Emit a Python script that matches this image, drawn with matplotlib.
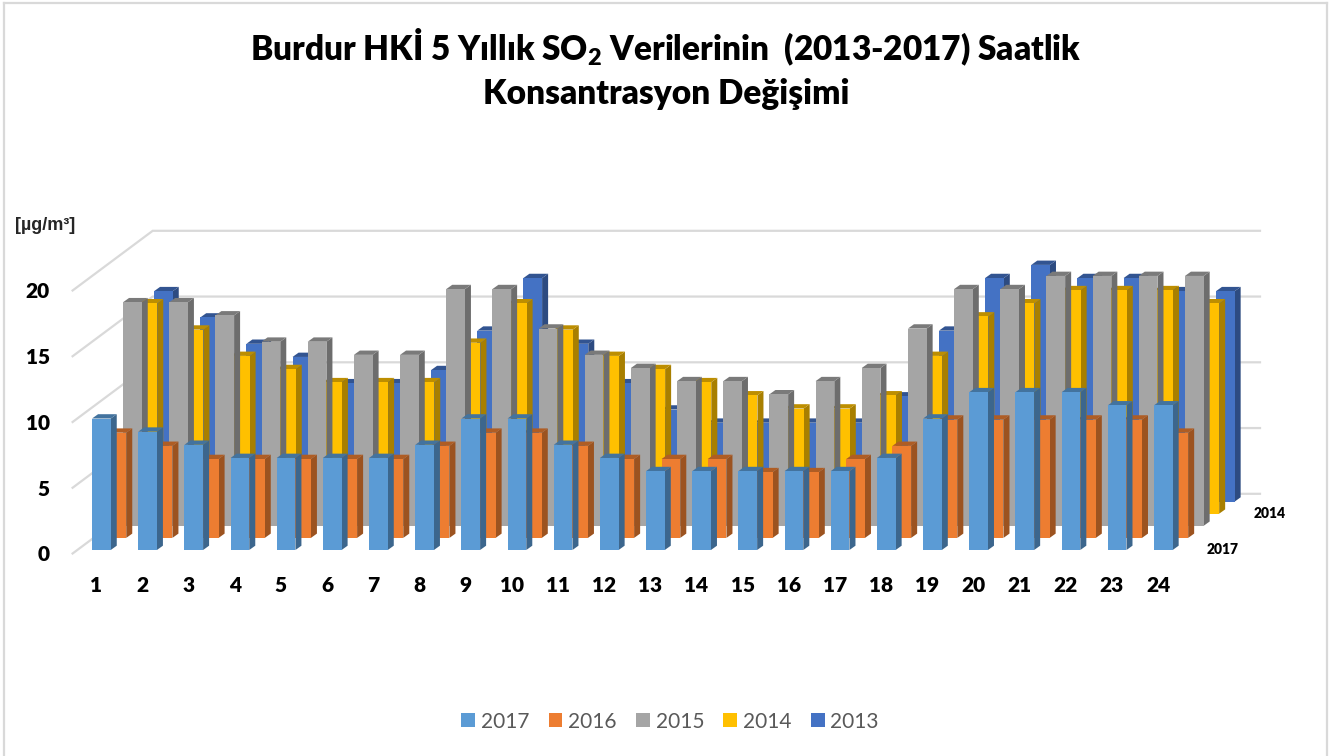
"""Burdur SO2 hourly concentration chart, fake 3D bars in plain 2D axes."""

import matplotlib

matplotlib.use("Agg")
import matplotlib.pyplot as plt  # noqa: E402
from matplotlib.colors import to_rgb  # noqa: E402
from matplotlib.lines import Line2D  # noqa: E402
from matplotlib.patches import Patch  # noqa: E402

hours = list(range(1, 25))
y_ticks = [0, 5, 10, 15, 20]

so2_2017 = [10, 9, 8, 7, 7, 7, 7, 8, 10, 10, 8, 7, 6, 6, 6, 6, 6, 7, 10, 12, 12, 12, 11, 11]
so2_2016 = [8, 7, 6, 6, 6, 6, 6, 7, 8, 8, 7, 6, 6, 6, 5, 5, 6, 7, 9, 9, 9, 9, 9, 8]
so2_2015 = [17, 17, 16, 14, 14, 13, 13, 18, 18, 15, 13, 12, 11, 11, 10, 11, 12, 15, 18, 18, 19, 19, 19, 19]
so2_2014 = [16, 14, 12, 11, 10, 10, 10, 13, 16, 14, 12, 11, 10, 9, 8, 8, 9, 12, 15, 16, 17, 17, 17, 16]
so2_2013 = [16, 14, 12, 11, 9, 9, 10, 13, 17, 12, 9, 7, 6, 6, 6, 6, 8, 13, 17, 18, 17, 17, 16, 16]

# front row first
years = ["2017", "2016", "2015", "2014", "2013"]
series = [so2_2017, so2_2016, so2_2015, so2_2014, so2_2013]
colors = ["#5B9BD5", "#ED7D31", "#A5A5A5", "#FFC000", "#4472C4"]

FIG_W, FIG_H = 1344, 756
HOUR_PX = 46.17
UNIT_PX = 13.15
FIRST_HOUR_PX = 101.4
ZERO_PX = 550.0
HEAVY = "heavy"


def px_x(px):
    return 1 + (px - FIRST_HOUR_PX) / HOUR_PX


def px_y(px):
    return (ZERO_PX - px) / UNIT_PX


BAR_W = 18.7 / HOUR_PX
CAP_X = 6.0 / HOUR_PX
CAP_Y = 4.3 / UNIT_PX
ROW_X = 15.5 / HOUR_PX
ROW_Y = 12.1 / UNIT_PX


def shade(color, factor):
    return tuple(c * factor for c in to_rgb(color))


def draw_bar(ax, hour, value, row, color, zorder):
    x0 = hour - BAR_W / 2 + row * ROW_X
    x1 = x0 + BAR_W
    y0 = row * ROW_Y
    y1 = y0 + value
    ax.fill([x1, x1 + CAP_X, x1 + CAP_X, x1], [y0, y0 + CAP_Y, y1 + CAP_Y, y1],
            color=shade(color, 0.66), lw=0, zorder=zorder)
    ax.fill([x0, x0 + CAP_X, x1 + CAP_X, x1], [y1, y1 + CAP_Y, y1 + CAP_Y, y1],
            color=shade(color, 0.74), lw=0, zorder=zorder)
    ax.fill([x0, x1, x1, x0], [y0, y0, y1, y1], color=color, lw=0, zorder=zorder)


plt.rcParams["font.family"] = ["Lato", "DejaVu Sans"]
plt.rcParams["mathtext.fontset"] = "custom"
plt.rcParams["mathtext.bf"] = "Lato:heavy"

fig = plt.figure(figsize=(FIG_W / 100, FIG_H / 100), dpi=100)
ax = fig.add_axes([0, 0, 1, 1])
ax.set_xlim(px_x(0), px_x(FIG_W))
ax.set_ylim(px_y(FIG_H), px_y(0))
ax.axis("off")

# chart frame, no bottom edge in the original
frame = dict(color="#D9D9D9", lw=1.6, transform=fig.transFigure)
fig.add_artist(Line2D([4 / FIG_W, 4 / FIG_W], [0, 1 - 3 / FIG_H], **frame))
fig.add_artist(Line2D([4 / FIG_W, 1327 / FIG_W], [1 - 3 / FIG_H, 1 - 3 / FIG_H], **frame))
fig.add_artist(Line2D([1327 / FIG_W, 1327 / FIG_W], [0, 1 - 3 / FIG_H], **frame))

# walls
wall_front, wall_back, wall_end = px_x(72.6), px_x(152.7), px_x(1260)
wall_rise = 59.7 / UNIT_PX
wall_zero = px_y(553.5)
for tick in y_ticks:
    y = wall_zero + tick
    ax.plot([wall_front, wall_back, wall_end], [y, y + wall_rise, y + wall_rise],
            color="#D9D9D9", lw=1.6, zorder=1, solid_joinstyle="miter")
    ax.text(px_x(50), y - 0.1, str(tick), ha="right", va="center", fontsize=15,
            fontweight=HEAVY, color="black", zorder=5)

# back row to front row, left to right inside a row
for row in range(len(series) - 1, -1, -1):
    for hour, value in zip(hours, series[row]):
        draw_bar(ax, hour, value, row, colors[row], 2 + (4 - row) * 0.1)

for hour in hours:
    ax.text(hour - 5.2 / HOUR_PX, px_y(586), str(hour), ha="center", va="center",
            fontsize=15, fontweight=HEAVY, color="black")

ax.text(px_x(15.5), px_y(226), "[µg/m³]", ha="left", va="center", fontsize=13,
        fontweight="bold", color="#262626", family=["Liberation Sans", "DejaVu Sans"])
ax.text(px_x(1270), px_y(513), "2014", ha="center", va="center", fontsize=10,
        fontweight=HEAVY, color="black")
ax.text(px_x(1222.5), px_y(549), "2017", ha="center", va="center", fontsize=10,
        fontweight=HEAVY, color="black")

ax.text(px_x(666), px_y(47),
        "Burdur HKİ 5 Yıllık SO$_{\\mathbf{2}}$ Verilerinin  (2013-2017) Saatlik",
        ha="center", va="center", fontsize=24, fontweight=HEAVY, color="black")
ax.text(px_x(666), px_y(93.5), "Konsantrasyon Değişimi", ha="center", va="center",
        fontsize=24, fontweight=HEAVY, color="black")

handles = [Patch(facecolor=c, edgecolor="none", label=y) for c, y in zip(colors, years)]
ax.legend(handles=handles, ncol=5, loc="center", bbox_to_anchor=(670 / FIG_W, 1 - 721.5 / FIG_H),
          frameon=False, fontsize=15, labelcolor="#595959", handlelength=0.67,
          handleheight=0.67, handletextpad=0.27, columnspacing=0.93, borderpad=0)

fig.savefig("out.png", dpi=100)
plt.close(fig)
